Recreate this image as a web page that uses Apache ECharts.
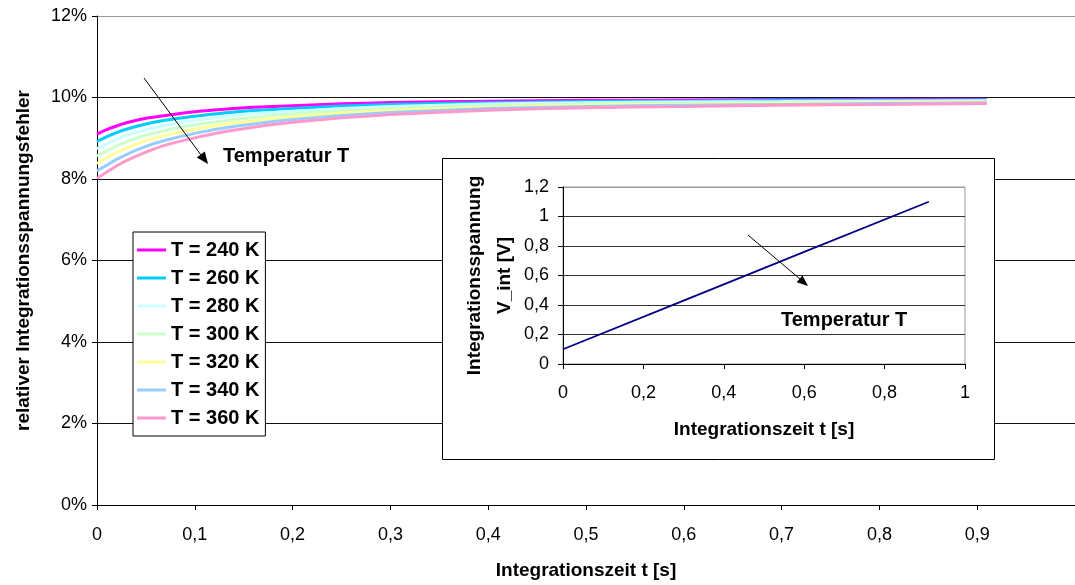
<!DOCTYPE html>
<html>
<head>
<meta charset="utf-8">
<script src="https://cdn.jsdelivr.net/npm/echarts@6/dist/echarts.min.js"></script>
<style>
  html, body { margin: 0; padding: 0; background: #fff; }
  #chart { width: 1075px; height: 585px; }
</style>
</head>
<body>
<div id="chart"></div>
<script>
// Integrationszeit t [s]
var tVals = [0, 0.01, 0.02, 0.03, 0.05, 0.07, 0.1, 0.13, 0.16, 0.2, 0.25, 0.3, 0.4, 0.5, 0.6, 0.7, 0.8, 0.91];

// relativer Integrationsspannungsfehler in % per temperature
var err240 = [9.10, 9.21, 9.30, 9.38, 9.49, 9.56, 9.65, 9.71, 9.76, 9.80, 9.845, 9.875, 9.91, 9.93, 9.94, 9.95, 9.955, 9.96];
var err260 = [8.92, 9.04, 9.14, 9.22, 9.35, 9.44, 9.54, 9.62, 9.68, 9.73, 9.79, 9.83, 9.87, 9.90, 9.91, 9.93, 9.93, 9.94];
var err280 = [8.74, 8.86, 8.97, 9.07, 9.21, 9.32, 9.44, 9.53, 9.60, 9.66, 9.73, 9.78, 9.84, 9.87, 9.89, 9.90, 9.91, 9.92];
var err300 = [8.56, 8.69, 8.81, 8.91, 9.08, 9.19, 9.33, 9.43, 9.51, 9.60, 9.67, 9.73, 9.80, 9.84, 9.86, 9.88, 9.89, 9.91];
var err320 = [8.38, 8.52, 8.65, 8.76, 8.94, 9.07, 9.22, 9.34, 9.43, 9.53, 9.62, 9.68, 9.76, 9.81, 9.83, 9.86, 9.87, 9.89];
var err340 = [8.20, 8.34, 8.48, 8.60, 8.80, 8.95, 9.12, 9.25, 9.35, 9.46, 9.56, 9.63, 9.73, 9.78, 9.81, 9.83, 9.85, 9.87];
var err360 = [8.02, 8.17, 8.32, 8.45, 8.66, 8.83, 9.01, 9.16, 9.27, 9.39, 9.50, 9.58, 9.69, 9.75, 9.78, 9.81, 9.83, 9.85];

var seriesNames = ['T = 240 K', 'T = 260 K', 'T = 280 K', 'T = 300 K', 'T = 320 K', 'T = 340 K', 'T = 360 K'];
var seriesColors = ['#ff00ff', '#00ccff', '#ccffff', '#ccffcc', '#ffff99', '#99ccff', '#ff99cc'];

// inset: Integrationsspannung V_int [V] over t [s]
var insetT = [0, 0.3, 0.6, 0.91];
var insetV = [0.1, 0.43, 0.76, 1.1];

var FONT = '"Liberation Sans", Arial, sans-serif';

function pairs(xs, ys) {
    var out = [];
    for (var i = 0; i < xs.length; i++) out.push([xs[i], ys[i]]);
    return out;
}
function comma(v) {
    return String(v).replace('.', ',');
}

var errData = [err240, err260, err280, err300, err320, err340, err360];
var series = [];
for (var i = 0; i < errData.length; i++) {
    series.push({
        name: seriesNames[i],
        type: 'line',
        xAxisIndex: 0,
        yAxisIndex: 0,
        data: pairs(tVals, errData[i]),
        showSymbol: false,
        smooth: 0.2,
        lineStyle: { color: seriesColors[i], width: 3 },
        itemStyle: { color: seriesColors[i] },
        z: 2,
        silent: true
    });
}
series.push({
    name: 'inset',
    type: 'line',
    xAxisIndex: 1,
    yAxisIndex: 1,
    data: pairs(insetT, insetV),
    showSymbol: false,
    lineStyle: { color: '#000080', width: 1.8 },
    z: 8,
    silent: true
});

var axisTitle = { fontFamily: FONT, fontSize: 19, fontWeight: 'bold', color: '#000' };

var option = {
    animation: false,
    backgroundColor: '#fff',
    textStyle: { fontFamily: FONT },
    grid: [
        { left: 97, top: 16, width: 985, height: 492 },
        { left: 563, top: 187, width: 402, height: 177, show: true, borderColor: '#999', borderWidth: 1, backgroundColor: 'transparent', z: 4 }
    ],
    legend: {
        data: seriesNames,
        orient: 'vertical',
        left: 133,
        top: 232,
        padding: [8, 6, 8, 4],
        itemWidth: 29,
        itemHeight: 3,
        itemGap: 8,
        icon: 'rect',
        backgroundColor: '#fff',
        borderColor: '#000',
        borderWidth: 1,
        borderRadius: 0,
        textStyle: { fontFamily: FONT, fontSize: 20, fontWeight: 'bold', color: '#000', lineHeight: 20 },
        selectedMode: false
    },
    xAxis: [
        {
            gridIndex: 0, type: 'value', min: 0, max: 1, interval: 0.1,
            name: 'Integrationszeit t [s]', nameLocation: 'middle', nameGap: 56,
            nameTextStyle: axisTitle,
            axisLine: { lineStyle: { color: '#000', width: 1 } },
            axisTick: { show: true, length: 5, lineStyle: { color: '#000' } },
            axisLabel: { margin: 21, fontSize: 18, color: '#000', fontFamily: FONT, showMaxLabel: false,
                formatter: function (v) { return v >= 1 ? '' : comma(v); } },
            splitLine: { show: false }
        },
        {
            gridIndex: 1, type: 'value', min: 0, max: 1, interval: 0.2, z: 6,
            name: 'Integrationszeit t [s]', nameLocation: 'middle', nameGap: 56,
            nameTextStyle: axisTitle,
            axisLine: { lineStyle: { color: '#000', width: 1 } },
            axisTick: { show: true, length: 5, lineStyle: { color: '#000' } },
            axisLabel: { margin: 20, fontSize: 18, color: '#000', fontFamily: FONT, formatter: comma },
            splitLine: { show: false }
        }
    ],
    yAxis: [
        {
            gridIndex: 0, type: 'value', min: 0, max: 12, interval: 2,
            name: 'relativer Integrationsspannungsfehler', nameLocation: 'middle', nameGap: 64,
            nameTextStyle: axisTitle,
            axisLine: { show: true, lineStyle: { color: '#000', width: 1 } },
            axisTick: { show: true, length: 5, lineStyle: { color: '#000' } },
            axisLabel: { margin: 10, fontSize: 18, color: '#000', fontFamily: FONT, formatter: '{value}%' },
            splitLine: { show: true, lineStyle: { color: ['#111', '#111', '#111', '#111', '#111', '#111', '#999'], width: 1 } }
        },
        {
            gridIndex: 1, type: 'value', min: 0, max: 1.2, interval: 0.2, z: 6,
            name: 'Integrationsspannung\nV_int [V]', nameLocation: 'middle', nameGap: 43,
            nameTextStyle: { fontFamily: FONT, fontSize: 19, fontWeight: 'bold', color: '#000', lineHeight: 30 },
            axisLine: { show: true, lineStyle: { color: '#000', width: 1 } },
            axisTick: { show: true, length: 5, lineStyle: { color: '#000' } },
            axisLabel: { margin: 14, fontSize: 18, color: '#000', fontFamily: FONT, formatter: comma },
            splitLine: { show: true, lineStyle: { color: ['#333', '#333', '#333', '#333', '#333', '#333', '#999'], width: 1 } }
        }
    ],
    graphic: [
        // inset frame
        { type: 'rect', z: 3, silent: true,
          shape: { x: 442.5, y: 158.5, width: 552, height: 301 },
          style: { fill: '#fff', stroke: '#000', lineWidth: 1 } },
        // main arrow + label
        { type: 'line', z: 9, silent: true,
          shape: { x1: 144, y1: 78, x2: 201, y2: 155 },
          style: { stroke: '#000', lineWidth: 1 } },
        { type: 'polygon', z: 9, silent: true,
          shape: { points: [[208, 164], [196.8, 157.4], [204.8, 151.4]] },
          style: { fill: '#000' } },
        { type: 'text', z: 9, silent: true,
          style: { text: 'Temperatur T', x: 223, y: 156, fill: '#000', font: 'bold 20px ' + FONT, verticalAlign: 'middle' } },
        // inset arrow + label
        { type: 'line', z: 9, silent: true,
          shape: { x1: 748, y1: 235, x2: 800, y2: 279 },
          style: { stroke: '#000', lineWidth: 1 } },
        { type: 'polygon', z: 9, silent: true,
          shape: { points: [[808, 286], [796.7, 282.3], [802.5, 275.5]] },
          style: { fill: '#000' } },
        { type: 'text', z: 9, silent: true,
          style: { text: 'Temperatur T', x: 781, y: 320, fill: '#000', font: 'bold 20px ' + FONT, verticalAlign: 'middle' } }
    ],
    series: series
};

var myChart = echarts.init(document.getElementById('chart'));
myChart.setOption(option, true);
</script>
</body>
</html>
